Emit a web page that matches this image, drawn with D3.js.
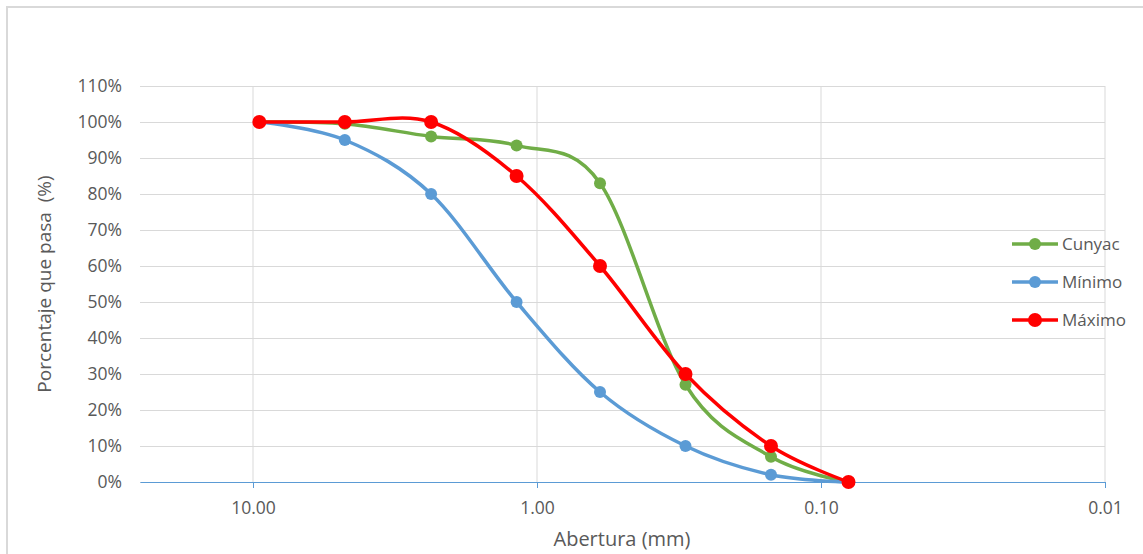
<!DOCTYPE html>
<html>
<head>
<meta charset="utf-8">
<script src="https://cdn.jsdelivr.net/npm/d3@7"></script>
<style>
  body { margin: 0; background: #fff; }
  text { font-family: "Open Sans", "Liberation Sans", sans-serif; fill: #595959; }
</style>
</head>
<body>
<div id="chart"></div>
<script>
// sieve openings (mm) and % passing
const aberturas = [9.5, 4.75, 2.36, 1.18, 0.6, 0.3, 0.15, 0.08];
const cunyac = [100, 99.5, 96, 93.5, 83, 27, 7, 0];
const minimo = [100, 95, 80, 50, 25, 10, 2, 0];
const maximo = [100, 100, 100, 85, 60, 30, 10, 0];
const seriesNames = ["Cunyac", "Mínimo", "Máximo"];
const xTickValues = [10, 1, 0.1, 0.01];
const yTickValues = [0, 10, 20, 30, 40, 50, 60, 70, 80, 90, 100, 110];

const W = 1143, H = 554;
const plot = { left: 140, right: 1105, top: 86, bottom: 482 };
const colors = { "Cunyac": "#70AD47", "Mínimo": "#5B9BD5", "Máximo": "#FF0000" };
const radius = { "Cunyac": 6, "Mínimo": 6, "Máximo": 7 };

const svg = d3.select("#chart").append("svg")
    .attr("width", W)
    .attr("height", H);

// outer chart border (runs off the right/bottom of the picture)
svg.append("rect")
    .attr("x", 7).attr("y", 7)
    .attr("width", W + 10).attr("height", H + 10)
    .attr("fill", "none")
    .attr("stroke", "#D9D9D9")
    .attr("stroke-width", 2);

const x = d3.scaleLog().domain([25, 0.01]).range([plot.left, plot.right]);
const y = d3.scaleLinear().domain([0, 110]).range([plot.bottom, plot.top]);

// horizontal gridlines + y labels
const yAxis = svg.append("g")
    .attr("transform", "translate(" + plot.left + ",0)")
    .call(d3.axisLeft(y)
        .tickValues(yTickValues)
        .tickSize(-(plot.right - plot.left))
        .tickPadding(18)
        .tickFormat(d => d + "%"));
yAxis.select(".domain").remove();
yAxis.selectAll(".tick line").attr("stroke", "#D9D9D9");
yAxis.selectAll(".tick text").style("font-size", "17.5px");

// vertical gridlines
svg.append("g")
    .selectAll("line")
    .data(xTickValues)
    .join("line")
    .attr("x1", d => x(d)).attr("x2", d => x(d))
    .attr("y1", plot.top).attr("y2", plot.bottom)
    .attr("stroke", "#D9D9D9");

// x axis at 0%
const xAxis = svg.append("g")
    .attr("transform", "translate(0," + plot.bottom + ")")
    .call(d3.axisBottom(x)
        .tickValues(xTickValues)
        .tickSizeInner(6)
        .tickSizeOuter(0)
        .tickPadding(14)
        .tickFormat(d3.format(".2f")));
xAxis.select(".domain").attr("stroke", "#5B9BD5");
xAxis.selectAll(".tick line").attr("stroke", "#5B9BD5");
xAxis.selectAll(".tick text").style("font-size", "17.5px");

// axis titles
svg.append("text")
    .attr("x", 622).attr("y", 546)
    .attr("text-anchor", "middle")
    .style("font-size", "20px")
    .text("Abertura (mm)");

svg.append("text")
    .attr("transform", "translate(51,284) rotate(-90)")
    .attr("text-anchor", "middle")
    .style("font-size", "19px")
    .style("white-space", "pre")
    .text("Porcentaje que pasa  (%)");

// series
const series = [
    { name: "Cunyac", values: cunyac },
    { name: "Mínimo", values: minimo },
    { name: "Máximo", values: maximo }
];

const line = d3.line()
    .x(d => x(d[0]))
    .y(d => y(d[1]))
    .curve(d3.curveCatmullRom.alpha(0));

series.forEach(s => {
    const pts = aberturas.map((a, i) => [a, s.values[i]]);
    svg.append("path")
        .datum(pts)
        .attr("d", line)
        .attr("fill", "none")
        .attr("stroke", colors[s.name])
        .attr("stroke-width", 3.5)
        .attr("stroke-linejoin", "round");
    svg.append("g")
        .selectAll("circle")
        .data(pts)
        .join("circle")
        .attr("cx", d => x(d[0]))
        .attr("cy", d => y(d[1]))
        .attr("r", radius[s.name])
        .attr("fill", colors[s.name]);
});

// legend
const legend = svg.append("g")
    .selectAll("g")
    .data(seriesNames)
    .join("g")
    .attr("transform", (d, i) => "translate(1012," + (244 + i * 38) + ")");
legend.append("line")
    .attr("x1", 0).attr("x2", 46)
    .attr("stroke", d => colors[d])
    .attr("stroke-width", 3.5);
legend.append("circle")
    .attr("cx", 23)
    .attr("r", d => radius[d])
    .attr("fill", d => colors[d]);
legend.append("text")
    .attr("x", 50)
    .attr("dy", "0.35em")
    .style("font-size", "17px")
    .text(d => d);
</script>
</body>
</html>
